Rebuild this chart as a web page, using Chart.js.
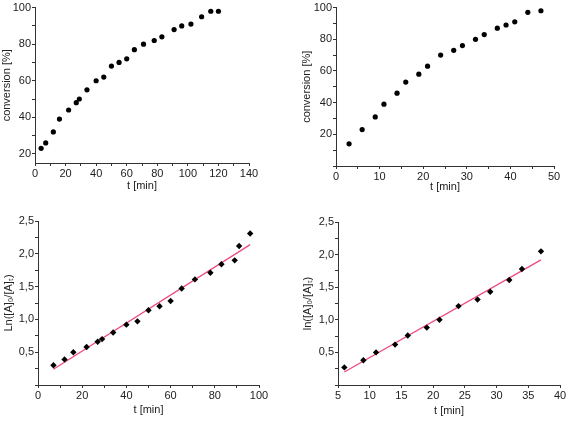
<!DOCTYPE html>
<html>
<head>
<meta charset="utf-8">
<script src="https://cdn.jsdelivr.net/npm/chart.js@4"></script>
<style>
  body { margin: 0; background: #fff; }
  #wrap { position: relative; width: 568px; height: 421px; background: #fff; }
  .panel { position: absolute; }
</style>
</head>
<body>
<div id="wrap">
  <div class="panel" style="left:0;top:0"><canvas id="c1" width="284" height="210"></canvas></div>
  <div class="panel" style="left:284px;top:0"><canvas id="c2" width="284" height="210"></canvas></div>
  <div class="panel" style="left:0;top:210px"><canvas id="c3" width="284" height="211"></canvas></div>
  <div class="panel" style="left:284px;top:210px"><canvas id="c4" width="284" height="211"></canvas></div>
</div>
<script>
// top left: conversion vs time (run 1)
const t1 = [4, 7, 12, 16, 22, 27, 29, 34, 40, 45, 50, 55, 60, 65, 71, 78, 83, 91, 96, 102, 109, 115, 120];
const conv1 = [23, 26, 32, 39, 44, 48, 50, 55, 60, 62, 68, 70, 72, 77, 80, 82, 84, 88, 90, 91, 95, 98, 98];

// top right: conversion vs time (run 2)
const t2 = [3, 6, 9, 11, 14, 16, 19, 21, 24, 27, 29, 32, 34, 37, 39, 41, 44, 47];
const conv2 = [14, 23, 31, 39, 46, 53, 58, 63, 70, 73, 76, 80, 83, 87, 89, 91, 97, 98];

// bottom left: ln([A]0/[A]t) vs time (run 1) + linear fit
const t3 = [7, 12, 16, 22, 27, 29, 34, 40, 45, 50, 55, 60, 65, 71, 78, 83, 89, 91, 96];
const ln3 = [0.30, 0.39, 0.50, 0.58, 0.66, 0.70, 0.80, 0.92, 0.97, 1.14, 1.20, 1.28, 1.47, 1.61, 1.71, 1.84, 1.90, 2.12, 2.31];
const fitT3 = [7, 96];
const fitLn3 = [0.24, 2.14];

// bottom right: ln([A]0/[A]t) vs time (run 2) + linear fit
const t4 = [6, 9, 11, 14, 16, 19, 21, 24, 27, 29, 32, 34, 37];
const ln4 = [0.27, 0.38, 0.50, 0.62, 0.76, 0.88, 1.00, 1.21, 1.31, 1.43, 1.61, 1.78, 2.05];
const fitT4 = [6, 37];
const fitLn4 = [0.20, 1.92];

const INK = "#222";
const AXIS = "#333";
const FIT = "#f04a80";

Chart.defaults.font.family = "'Liberation Sans', Arial, sans-serif";
Chart.defaults.font.size = 11;
Chart.defaults.color = INK;

function pts(xs, ys) {
  return xs.map((x, i) => ({ x: x, y: ys[i] }));
}

function comma(v) {
  return v.toFixed(1).replace(".", ",");
}

function isStep(v, step) {
  const r = v / step;
  return Math.abs(r - Math.round(r)) < 1e-6;
}

function axis(opt) {
  return {
    type: "linear",
    position: opt.position,
    min: opt.min,
    max: opt.max,
    border: { display: true, color: AXIS, width: 1 },
    grid: { drawOnChartArea: false, drawTicks: true, tickLength: 3, color: AXIS },
    ticks: {
      stepSize: opt.step,
      includeBounds: false,
      autoSkip: false,
      maxRotation: 0,
      maxTicksLimit: 100,
      padding: 1,
      color: INK,
      callback: opt.label,
    },
    title: {
      display: true,
      text: opt.title,
      color: INK,
      font: { size: 11 },
      padding: opt.titlePad,
    },
    afterFit: opt.fit,
  };
}

function makeChart(id, datasets, pad, xOpt, yOpt) {
  const ctx = document.getElementById(id).getContext("2d");
  return new Chart(ctx, {
    type: "scatter",
    data: { datasets: datasets },
    options: {
      responsive: false,
      animation: false,
      devicePixelRatio: 1,
      layout: { padding: pad },
      plugins: { legend: { display: false }, tooltip: { enabled: false } },
      scales: { x: axis(xOpt), y: axis(yOpt) },
    },
  });
}

function dots(xs, ys, style, r) {
  return {
    data: pts(xs, ys),
    showLine: false,
    pointStyle: style,
    pointRadius: r,
    pointBackgroundColor: "#000",
    pointBorderColor: "#000",
    pointBorderWidth: 0,
  };
}

function fitLine(xs, ys) {
  return {
    data: pts(xs, ys),
    showLine: true,
    borderColor: FIT,
    borderWidth: 1.3,
    pointRadius: 0,
  };
}

// chart 1
makeChart("c1", [dots(t1, conv1, "circle", 2.6)],
  { left: 0, top: 6, right: 35, bottom: 0 },
  { position: "bottom", min: 0, max: 140, step: 10, title: "t [min]",
    titlePad: { top: 0, bottom: 17 },
    label: v => (isStep(v, 20) ? v : ""),
    fit: s => { s.height = 47; } },
  { position: "left", min: 15, max: 100, step: 10, title: "conversion [%]",
    titlePad: { top: 0, bottom: 0 },
    label: v => (isStep(v, 20) ? v : ""),
    fit: s => { s.width = 35; } });

// chart 2
makeChart("c2", [dots(t2, conv2, "circle", 2.6)],
  { left: 0, top: 7, right: 14, bottom: 0 },
  { position: "bottom", min: 0, max: 50, step: 5, title: "t [min]",
    titlePad: { top: 0, bottom: 16 },
    label: v => (isStep(v, 10) ? v : ""),
    fit: s => { s.height = 44; } },
  { position: "left", min: 0, max: 100, step: 10, title: "conversion [%]",
    titlePad: { top: 16, bottom: 0 },
    label: v => (v > 0 && isStep(v, 20) ? v : ""),
    fit: s => { s.width = 52; } });

// chart 3
makeChart("c3", [dots(t3, ln3, "rectRot", 3.2), fitLine(fitT3, fitLn3)],
  { left: 0, top: 11, right: 25, bottom: 0 },
  { position: "bottom", min: 0, max: 100, step: 10, title: "t [min]",
    titlePad: { top: 0, bottom: 4 },
    label: v => (isStep(v, 20) ? v : ""),
    fit: s => { s.height = 36; } },
  { position: "left", min: 0, max: 2.5, step: 0.25, title: "Ln([A]\u2080/[A]\u209C)",
    titlePad: { top: 2, bottom: 0 },
    label: v => (v > 0 && isStep(v, 0.5) ? comma(v) : ""),
    fit: s => { s.width = 38; } });

// chart 4
makeChart("c4", [dots(t4, ln4, "rectRot", 3.2), fitLine(fitT4, fitLn4)],
  { left: 0, top: 12, right: 8, bottom: 0 },
  { position: "bottom", min: 5, max: 40, step: 5, title: "t [min]",
    titlePad: { top: 0, bottom: 3 },
    label: v => v,
    fit: s => { s.height = 36; } },
  { position: "left", min: 0, max: 2.5, step: 0.25, title: "ln([A]\u2080/[A]\u209C)",
    titlePad: { top: 17, bottom: 0 },
    label: v => (v > 0 && isStep(v, 0.5) ? comma(v) : ""),
    fit: s => { s.width = 54; } });
</script>
</body>
</html>
